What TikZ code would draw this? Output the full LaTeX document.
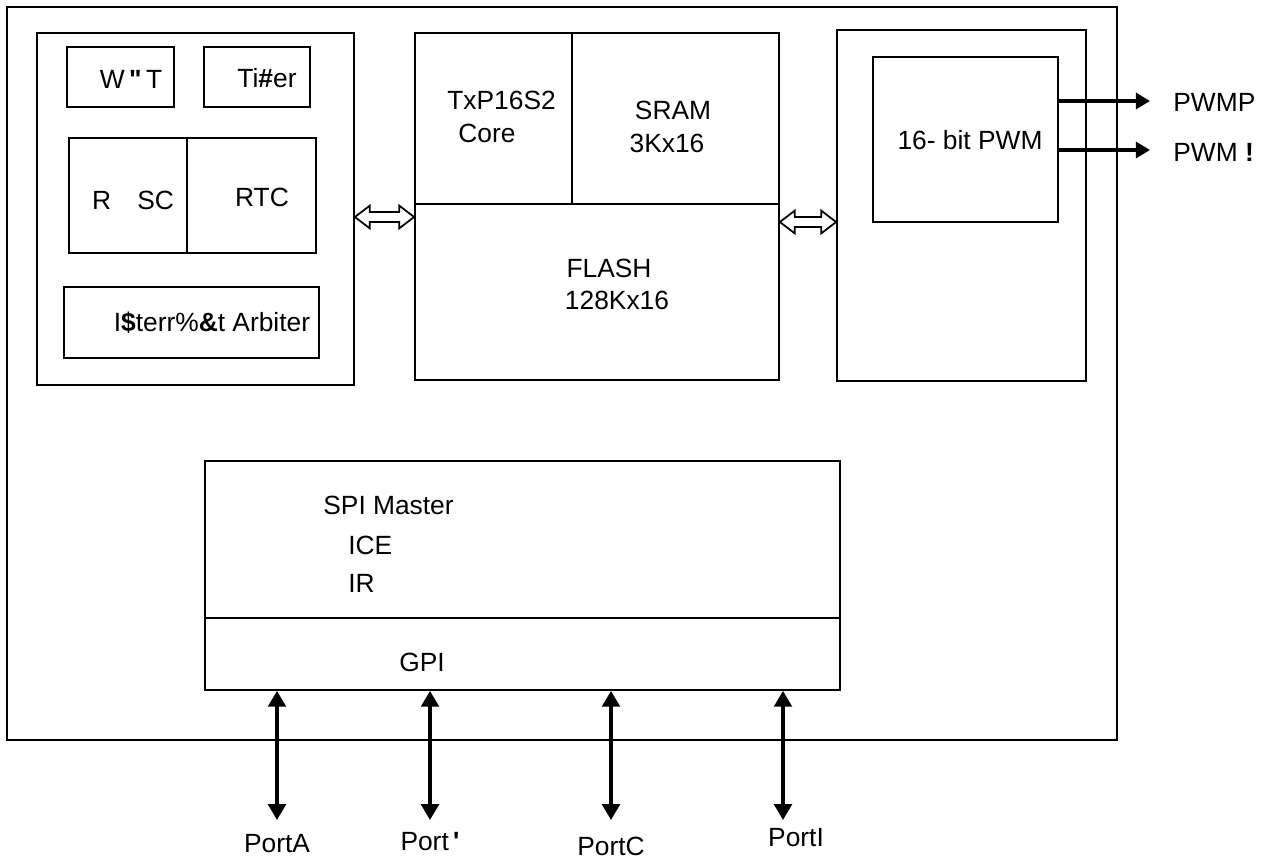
\documentclass[tikz,border=0pt]{standalone}
\usepackage{fontspec}
\setmainfont{Liberation Sans}
\usetikzlibrary{arrows.meta, calc, fit, positioning}
\tikzset{
    blk/.style={draw, line width=1pt, rectangle, inner sep=0pt},
    lbl/.style={inner sep=0pt, font=\fontsize{15}{18}\selectfont},
    bus/.style={line width=1pt, to path={
        let \p1=(\tikztostart), \p2=(\tikztotarget) in
        (\x1,\y1) -- (\x1+8.5pt,\y1+6.5pt) -- (\x1+8.5pt,\y1+2.8pt)
        -- (\x2-8.5pt,\y2+2.8pt) -- (\x2-8.5pt,\y2+6.5pt) -- (\x2,\y2)
        -- (\x2-8.5pt,\y2-6.5pt) -- (\x2-8.5pt,\y2-2.8pt)
        -- (\x1+8.5pt,\y1-2.8pt) -- (\x1+8.5pt,\y1-6.5pt) -- cycle \tikztonodes}},
    sig/.style={line width=2pt, -{Triangle[length=8pt, width=9pt]}},
    io/.style={line width=2pt, {Triangle[length=9pt, width=10pt]}-{Triangle[length=9pt, width=10pt]}}
}

\begin{document}
\begin{tikzpicture}[x=0.02cm, y=-0.02cm]
    \useasboundingbox (0,0) rectangle (1264,859);
    % chip outline
    \node[blk, fit={(7,7) (1117,740)}] (chip) {};
    % system block
    \node[blk, fit={(37,33) (354,385)}] (ctl) {};
    \node[blk, fit={(67,47) (174,107)}] (wdt) {};
    \node[blk, fit={(204,47) (310,107)}] (tmr) {};
    \node[blk, fit={(69,138) (187,253)}] (rsc) {};
    \node[blk, fit={(187,138) (316,253)}] (rtc) {};
    \node[blk, fit={(64,287) (319,358)}] (arb) {};
    % cpu and memory
    \node[blk, fit={(415,33) (779,380)}] (mem) {};
    \node[blk, fit={(415,33) (572,204)}] (core) {};
    \node[blk, fit={(572,33) (779,204)}] (sram) {};
    % pwm
    \node[blk, fit={(837,30) (1086,381)}] (per) {};
    \node[blk, fit={(873,57) (1058,222)}] (pwm) {};
    % spi / gpio
    \node[blk, fit={(205,461) (840,618)}] (spi) {};
    \node[blk, fit={(205,618) (840,690)}] (gpi) {};

    \node[lbl] (wdtT) at (131,79) {W\,\textbf{\textquotedbl}\,T};
    \node[lbl] (tmrT) at (267,78) {Ti\textbf{\#}er};
    \node[lbl] (rscT) at (133,200) {R\quad SC};
    \node[lbl] (rtcT) at (262,197) {RTC};
    \node[lbl] (arbT) at (212,323) {I\textbf{\$}terr\%\textbf{\&}t Arbiter};
    \node[lbl, anchor=west] (coreT) at (447,100) {TxP16S2};
    \node[lbl, anchor=west] (coreU) at (458,133) {Core};
    \node[lbl] (sramT) at (673,110) {SRAM};
    \node[lbl] (sramU) at (667,143) {3Kx16};
    \node[lbl] (flT) at (609,268) {FLASH};
    \node[lbl] (flU) at (617,300) {128Kx16};
    \node[lbl] (pwmT) at (970,140) {16- bit PWM};
    \node[lbl, anchor=west] (spiT) at (323,505) {SPI Master};
    \node[lbl, anchor=west] (iceT) at (348,545) {ICE};
    \node[lbl, anchor=west] (irT) at (348,583) {IR};
    \node[lbl] (gpiT) at (422,662) {GPI};

    % buses
    \coordinate (busL) at (0,217);
    \coordinate (busR) at (0,222);
    \draw[bus] (ctl.east |- busL) to (mem.west |- busL);
    \draw[bus] (mem.east |- busR) to (per.west |- busR);

    % pwm outputs
    \coordinate (pwmP) at (1150,101);
    \coordinate (pwmN) at (1150,150);
    \draw[sig] (pwm.east |- pwmP) -- (pwmP);
    \draw[sig] (pwm.east |- pwmN) -- (pwmN);
    \node[lbl, anchor=west] (pwmPT) at (1173,102) {PWMP};
    \node[lbl, anchor=west] (pwmNT) at (1173,152) {PWM \textbf{!}};

    % ports
    \coordinate (ioA) at (277,820);
    \coordinate (ioB) at (430,820);
    \coordinate (ioC) at (611,820);
    \coordinate (ioD) at (783,820);
    \draw[io] (ioA |- gpi.south) -- (ioA);
    \draw[io] (ioB |- gpi.south) -- (ioB);
    \draw[io] (ioC |- gpi.south) -- (ioC);
    \draw[io] (ioD |- gpi.south) -- (ioD);
    \node[lbl] (ptA) at (277,844) {PortA};
    \node[lbl] (ptB) at (430,842) {Port\,\textbf{\textquotesingle}};
    \node[lbl] (ptC) at (611,846) {PortC};
    \node[lbl] (ptD) at (796,838) {PortI};
\end{tikzpicture}
\end{document}
